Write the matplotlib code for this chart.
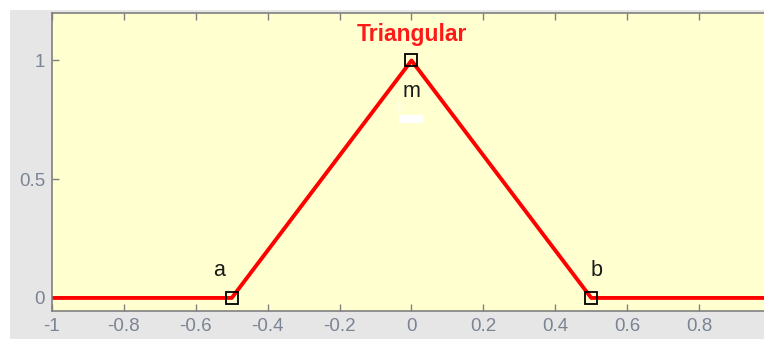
import matplotlib
matplotlib.use("Agg")
import matplotlib.pyplot as plt
from matplotlib.patches import Rectangle

# membership function breakpoints
x_pts = [-1.0, -0.5, 0.0, 0.5, 1.0]
y_pts = [0.0, 0.0, 1.0, 0.0, 0.0]

# parameter handles (a, m, b)
param_x = [-0.5, 0.0, 0.5]
param_y = [0.0, 1.0, 0.0]
param_names = ["a", "m", "b"]
label_pos = [(-0.535, 0.115), (0.0, 0.87), (0.515, 0.115)]

xticks = [-1, -0.8, -0.6, -0.4, -0.2, 0, 0.2, 0.4, 0.6, 0.8]
xtick_labels = ["-1", "-0.8", "-0.6", "-0.4", "-0.2", "0", "0.2", "0.4", "0.6", "0.8"]
yticks = [0, 0.5, 1]
ytick_labels = ["0", "0.5", "1"]

plt.rcParams['font.family'] = ['Liberation Sans', 'DejaVu Sans']

W, H = 764, 339
fig = plt.figure(figsize=(W / 100, H / 100), dpi=100, facecolor="white")
# grey panel behind the axes
fig.patches.append(Rectangle((10 / W, 0), 1, (H - 10) / H, transform=fig.transFigure,
                             facecolor="#e6e6e6", edgecolor="none", zorder=-10))

ax = fig.add_axes([52 / W, (H - 311) / H, 719 / W, 298 / H])
ax.set_zorder(1)
ax.set_facecolor("#ffffd0")
ax.set_xlim(-1, 1)
ax.set_ylim(-0.055, 1.2)

ax.plot(x_pts, y_pts, color="#ff0000", lw=2.8, solid_capstyle="butt", zorder=2)
ax.plot(param_x, param_y, ls="none", marker="s", ms=8.5, mfc="none", mec="black", mew=1.3, zorder=3)

for name, (tx, ty) in zip(param_names, label_pos):
    ax.text(tx, ty, name, ha="center", va="center", fontsize=15.5, color="#1a1a1a")

# small white box under the "m" label
ax.add_patch(Rectangle((-0.036, 0.738), 0.067, 0.034, facecolor="white", edgecolor="none", zorder=4))
ax.plot([-0.034, -0.034], [0.77, 0.83], color="white", lw=1, zorder=4)

ax.text(0.0, 1.11, "Triangular", ha="center", va="center", fontsize=16.5,
        fontweight="bold", color="#ff1a1a")

ax.set_xticks(xticks)
ax.set_xticklabels(xtick_labels)
ax.set_yticks(yticks)
ax.set_yticklabels(ytick_labels)
ax.tick_params(direction="in", length=5, width=1, colors="#808080", labelcolor="#7a8494",
               labelsize=13.5, top=True, right=True, pad=5)
for s in ax.spines.values():
    s.set_color("#808080")
    s.set_linewidth(1.2)

fig.savefig("out.png", dpi=100, facecolor=fig.get_facecolor())
